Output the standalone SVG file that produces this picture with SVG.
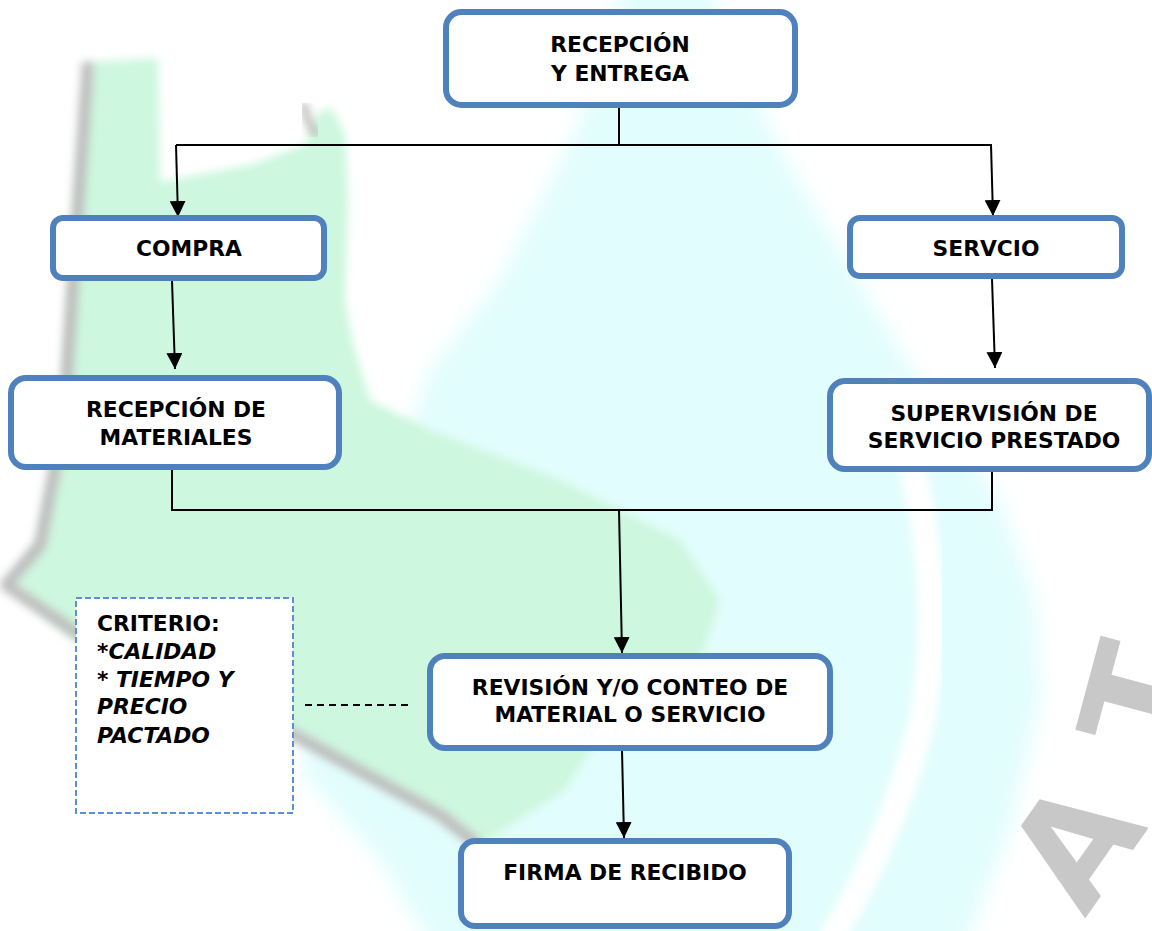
<svg xmlns="http://www.w3.org/2000/svg" width="1152" height="931" viewBox="0 0 1152 931">
<defs>
<filter id="soft" x="-10%" y="-10%" width="120%" height="120%"><feGaussianBlur stdDeviation="4"/></filter>
<filter id="soft2" x="-20%" y="-20%" width="140%" height="140%"><feGaussianBlur stdDeviation="10"/></filter>
<marker id="arr" markerWidth="16" markerHeight="16" refX="16" refY="8" orient="auto" markerUnits="userSpaceOnUse"><path d="M0,0 L16,8 L0,16 Z" fill="#000"/></marker>
</defs>
<style>
.box{fill:#fff;stroke:#4F81BD;stroke-width:6}
.t{font-family:"DejaVu Sans",Verdana,sans-serif;font-weight:bold;font-size:21.8px;fill:#000}
.c{text-anchor:middle}
.i{font-style:italic}
.ln{fill:none;stroke:#000;stroke-width:2}
.wm{font-family:"DejaVu Sans",sans-serif;font-weight:bold;font-size:145px;fill:#C8C8C8;text-anchor:middle}
</style>
<rect width="1152" height="931" fill="#fff"/>
<g id="watermark">
<path filter="url(#soft2)" fill="#E2FDFD" d="M630,-30 L700,-30 L780,150 L870,300 L930,400 L1000,500 L1035,600 L1040,700 L1010,830 L960,960 L440,960 L380,860 L300,770 L330,650 L430,370 L500,280 L575,133 Z"/>
<path filter="url(#soft)" fill="none" stroke="#fff" stroke-width="26" d="M885,380 Q952,560 922,720 Q892,840 830,940"/>
<path filter="url(#soft)" fill="#CDF7DE" d="M92,62 L158,58 L160,182 L250,165 L305,145 L318,112 L332,108 L345,135 L348,200 L345,300 L352,340 L370,400 L430,430 L560,480 L680,540 L720,600 L700,660 L610,720 L565,790 L480,845 L440,815 L294,735 L75,640 L25,597 L10,582 L40,540 L62,420 L72,250 L85,100 Z"/>
<path filter="url(#soft)" fill="none" stroke="#BEBEBE" stroke-width="12" stroke-linejoin="round" d="M88,62 L75,250 L64,420 L40,545 L6,585 L75,632 L294,735 L440,815 L478,845"/>
<path filter="url(#soft)" fill="none" stroke="#BEBEBE" stroke-width="8" stroke-linecap="round" d="M304,106 Q308,124 316,134"/>
<text class="wm" transform="translate(1190,710) rotate(-75)">T</text>
<text class="wm" transform="translate(1117,873) rotate(-55)">A</text>
</g>
<g id="connectors">
<path class="ln" d="M619,108 V145 M176,145 H992 M172,470 V510 H992 V472"/>
<path class="ln" marker-end="url(#arr)" d="M176,145 L178,217"/>
<path class="ln" marker-end="url(#arr)" d="M991,145 L993,216"/>
<path class="ln" marker-end="url(#arr)" d="M172,281 L175,369"/>
<path class="ln" marker-end="url(#arr)" d="M992,279 L995,368"/>
<path class="ln" marker-end="url(#arr)" d="M619,510 L622,653"/>
<path class="ln" marker-end="url(#arr)" d="M622,750 L624,838"/>
<path class="ln" stroke-dasharray="7,5" d="M305,705 H412"/>
</g>
<g id="n-recepcion-entrega">
<rect class="box" x="446" y="12" width="349" height="93" rx="15.5"/>
<text class="t c" x="620" y="52">RECEPCIÓN</text>
<text class="t c" x="620" y="81">Y ENTREGA</text>
</g>
<g id="n-compra">
<rect class="box" x="53" y="218" width="271" height="60" rx="10"/>
<text class="t c" x="189" y="256">COMPRA</text>
</g>
<g id="n-servcio">
<rect class="box" x="850" y="218" width="272" height="58" rx="10"/>
<text class="t c" x="986" y="256">SERVCIO</text>
</g>
<g id="n-recepcion-materiales">
<rect class="box" x="11" y="378" width="328" height="89" rx="15"/>
<text class="t c" x="176" y="417">RECEPCIÓN DE</text>
<text class="t c" x="176" y="445">MATERIALES</text>
</g>
<g id="n-supervision">
<rect class="box" x="830" y="381" width="319" height="88" rx="15"/>
<text class="t c" x="994" y="421">SUPERVISIÓN DE</text>
<text class="t c" x="994" y="448">SERVICIO PRESTADO</text>
</g>
<g id="n-revision">
<rect class="box" x="430" y="656" width="400" height="92" rx="15"/>
<text class="t c" x="630" y="695">REVISIÓN Y/O CONTEO DE</text>
<text class="t c" x="630" y="722">MATERIAL O SERVICIO</text>
</g>
<g id="n-firma">
<rect class="box" x="461" y="841" width="328" height="85" rx="14"/>
<text class="t c" x="625" y="880">FIRMA DE RECIBIDO</text>
</g>
<g id="n-criterio">
<rect x="76" y="598" width="217" height="215" fill="#fff" stroke="#5B8FD8" stroke-width="2" stroke-dasharray="6,3"/>
<text class="t" x="97" y="631">CRITERIO:</text>
<text class="t i" x="97" y="659">*CALIDAD</text>
<text class="t i" x="97" y="687">* TIEMPO Y</text>
<text class="t i" x="97" y="714">PRECIO</text>
<text class="t i" x="97" y="743">PACTADO</text>
</g>
</svg>
